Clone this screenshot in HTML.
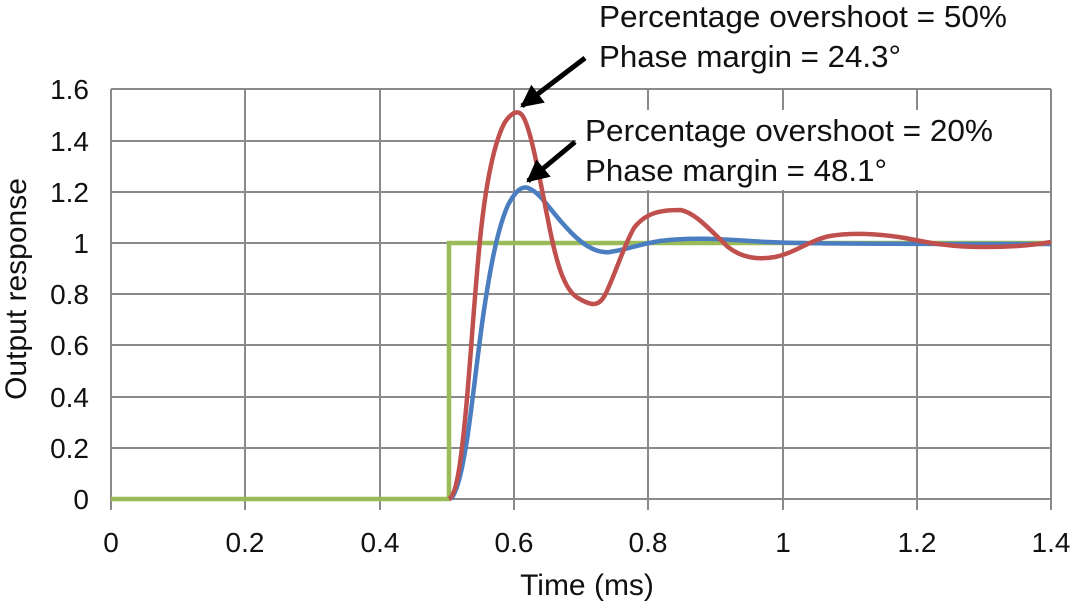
<!DOCTYPE html>
<html><head><meta charset="utf-8"><style>body{margin:0;background:#fff}svg{display:block}text{font-family:"Liberation Sans",Arial,sans-serif;fill:#111}</style></head>
<body>
<svg width="1079" height="607" viewBox="0 0 1079 607" xmlns="http://www.w3.org/2000/svg">
<defs><marker id="ah" viewBox="0 0 10 10" refX="9" refY="5" markerWidth="4.5" markerHeight="4.5" orient="auto"><path d="M0,0 L10,5 L0,10 z" fill="#000"/></marker></defs>
<g stroke="#8a8a8a" stroke-width="2" fill="none">
<path d="M111,89V499M245,89V499M380,89V499M514,89V499M648,89V499M783,89V499M917,89V499M1051,89V499"/>
<path d="M111,499H1051M111,448H1051M111,397H1051M111,345H1051M111,294H1051M111,243H1051M111,192H1051M111,141H1051M111,89H1051"/>
<path d="M111,499V510M245,499V510M380,499V510M514,499V510M648,499V510M783,499V510M917,499V510M1051,499V510"/>
</g>
<rect x="576" y="110" width="474" height="80" fill="#fff"/>
<g font-size="28" text-anchor="end">
<text x="89" y="509">0</text><text x="89" y="458">0.2</text><text x="89" y="407">0.4</text><text x="89" y="355">0.6</text><text x="89" y="304">0.8</text><text x="89" y="253">1</text><text x="89" y="202">1.2</text><text x="89" y="151">1.4</text><text x="89" y="99">1.6</text>
</g>
<g font-size="28" text-anchor="middle">
<text x="111" y="552">0</text><text x="245" y="552">0.2</text><text x="380" y="552">0.4</text><text x="514" y="552">0.6</text><text x="648" y="552">0.8</text><text x="783" y="552">1</text><text x="917" y="552">1.2</text><text x="1051" y="552">1.4</text>
<text x="587" y="595" font-size="30">Time (ms)</text>
<text transform="translate(26,289) rotate(-90)" font-size="30">Output response</text>
</g>
<path d="M111,499H449V243H1051" fill="none" stroke="#9bbb59" stroke-width="4.5"/>
<path d="M451,499 C458,490 462,470 467,440 C473,400 478,350 484,310 C490,270 497,230 508,205 C516,190 522,186 528,188 C540,192 550,210 565,226 C580,243 595,254 610,252 C625,250 640,244 660,241 C690,237 720,239 750,241 C780,243 800,244 1051,244" fill="none" stroke="#4a7ec0" stroke-width="4.5"/>
<path d="M449,499 C456,495 460,470 465,420 C470,370 474,300 480,240 C486,180 495,140 505,122 C512,112 518,110 522,115 C530,125 538,170 548,220 C556,262 564,290 578,298 C590,305 598,308 605,295 C615,275 624,245 634,228 C646,212 662,210 680,210 C695,212 712,232 728,247 C742,258 758,260 775,257 C795,253 810,240 830,236 C855,232 880,234 905,238 C930,243 950,247 985,247 C1015,247 1035,245 1051,242" fill="none" stroke="#c0504d" stroke-width="4.5"/>
<g font-size="31">
<text x="599" y="27" textLength="408" lengthAdjust="spacingAndGlyphs">Percentage overshoot = 50%</text>
<text x="599" y="67" textLength="302" lengthAdjust="spacingAndGlyphs">Phase margin = 24.3°</text>
<text x="585" y="141" textLength="408" lengthAdjust="spacingAndGlyphs">Percentage overshoot = 20%</text>
<text x="585" y="181" textLength="302" lengthAdjust="spacingAndGlyphs">Phase margin = 48.1°</text>
</g>
<path d="M585,58 L522,106" stroke="#000" stroke-width="5" marker-end="url(#ah)"/>
<path d="M575,142 L528,181" stroke="#000" stroke-width="5" marker-end="url(#ah)"/>
</svg>
</body></html>
